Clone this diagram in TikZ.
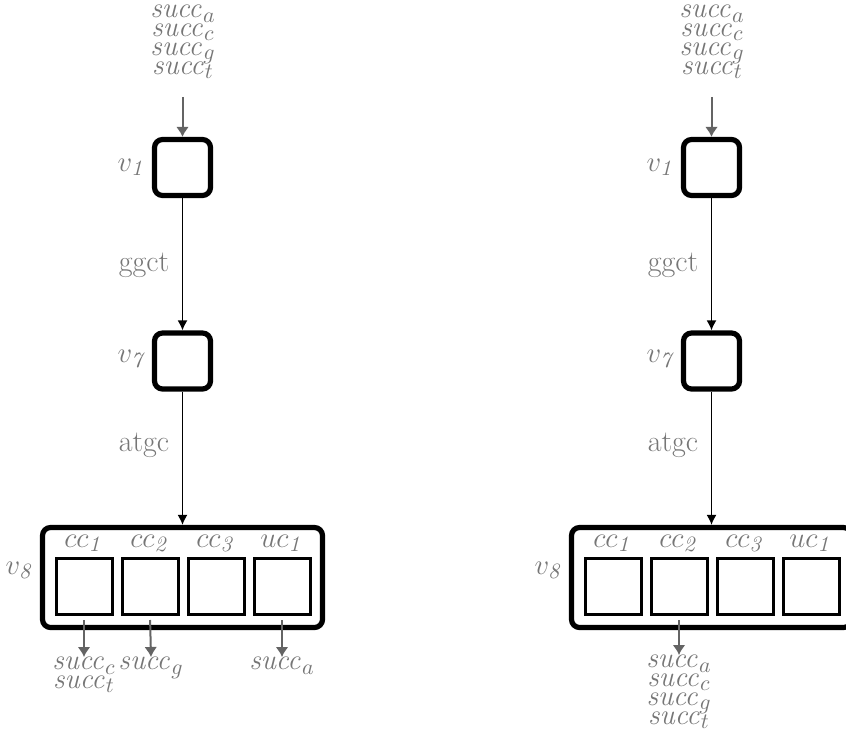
\documentclass[tikz,border=0pt]{standalone}
\usepackage{amsmath}
\usetikzlibrary{arrows.meta}
\definecolor{lblgray}{RGB}{118,118,118}
\definecolor{arrgray}{RGB}{100,100,100}
\newcommand{\sucx}[1]{\mathit{succ}_{#1}}
\newcommand{\dg}[1]{_{\mathit{#1}}}
\newcommand{\stackfont}{\fontsize{15}{9.4}\selectfont\lineskiplimit-30pt\relax}
\begin{document}
\begin{tikzpicture}[x=0.5pt,y=-0.5pt,
  vbox/.style={draw=black,line width=2.6pt,rounded corners=4pt,minimum size=28pt,inner sep=0pt},
  bigbox/.style={draw=black,line width=2.6pt,rounded corners=4pt,minimum width=140pt,minimum height=50pt,inner sep=0pt},
  cell/.style={draw=black,line width=1.5pt,minimum size=28pt,inner sep=0pt},
  lbl/.style={text=lblgray,font=\fontsize{15}{17}\selectfont,inner sep=1pt},
  stack/.style={text=lblgray,font=\stackfont,align=center,inner sep=0pt},
  edge/.style={draw=black,line width=0.75pt,-{Latex[length=5pt,width=5pt]}},
  garrow/.style={draw=arrgray,line width=1pt,-{Latex[length=5pt,width=6.5pt]}}]
\clip (0,0) rectangle (846,738);
% ---------- left picture ----------
\node[stack] (topL) at (183,42) {$\sucx{a}$\\$\sucx{c}$\\$\sucx{g}$\\$\sucx{t}$};
\coordinate (tL) at (182.5,97);
\node[vbox] (v1L) at (182.5,167.5) {};
\node[vbox] (v7L) at (182.5,361) {};
\node[bigbox] (v8L) at (182.5,577.5) {};
\node[lbl] (l1L) at (132,167) {$v\dg{1}$};
\node[lbl] (l7L) at (132,361) {$v\dg{7}$};
\node[lbl] (l8L) at (20,570) {$v\dg{8}$};
\node[lbl] (e1L) at (144,265) {ggct};
\node[lbl] (e2L) at (144,445) {atgc};
\foreach \i/\x/\t in {1/84/cc\dg{1},2/150/cc\dg{2},3/216/cc\dg{3},4/282/uc\dg{1}}{
  \node[cell] (c\i L) at (\x,586.5) {};
  \node[lbl] (h\i L) at (\x,543) {$\t$};
}
\draw[garrow] (tL) -- (v1L.north);
\draw[edge] (v1L.south) -- (v7L.north);
\draw[edge] (v7L.south) -- (v8L.north);
\node[stack,anchor=north] (s1L) at (84,657) {$\sucx{c}$\\$\sucx{t}$};
\node[stack,anchor=north] (s2L) at (151,657) {$\sucx{g}$};
\node[stack,anchor=north] (s4L) at (282,657) {$\sucx{a}$};
\draw[garrow,shorten <=2pt] (c1L.south) -- (s1L.north);
\draw[garrow,shorten <=2pt] (c2L.south) -- (s2L.north);
\draw[garrow,shorten <=2pt] (c4L.south) -- (s4L.north);
% ---------- right picture ----------
\node[stack] (topR) at (712,42) {$\sucx{a}$\\$\sucx{c}$\\$\sucx{g}$\\$\sucx{t}$};
\coordinate (tR) at (711.5,97);
\node[vbox] (v1R) at (711.5,167.5) {};
\node[vbox] (v7R) at (711.5,361) {};
\node[bigbox] (v8R) at (711.5,577.5) {};
\node[lbl] (l1R) at (661,167) {$v\dg{1}$};
\node[lbl] (l7R) at (661,361) {$v\dg{7}$};
\node[lbl] (l8R) at (549,570) {$v\dg{8}$};
\node[lbl] (e1R) at (673,265) {ggct};
\node[lbl] (e2R) at (673,445) {atgc};
\foreach \i/\x/\t in {1/613/cc\dg{1},2/679/cc\dg{2},3/745/cc\dg{3},4/811/uc\dg{1}}{
  \node[cell] (c\i R) at (\x,586.5) {};
  \node[lbl] (h\i R) at (\x,543) {$\t$};
}
\draw[garrow] (tR) -- (v1R.north);
\draw[edge] (v1R.south) -- (v7R.north);
\draw[edge] (v7R.south) -- (v8R.north);
\node[stack,anchor=north] (s2R) at (679,655) {$\sucx{a}$\\$\sucx{c}$\\$\sucx{g}$\\$\sucx{t}$};
\draw[garrow,shorten <=2pt] (c2R.south) -- (s2R.north);
\end{tikzpicture}
\end{document}
